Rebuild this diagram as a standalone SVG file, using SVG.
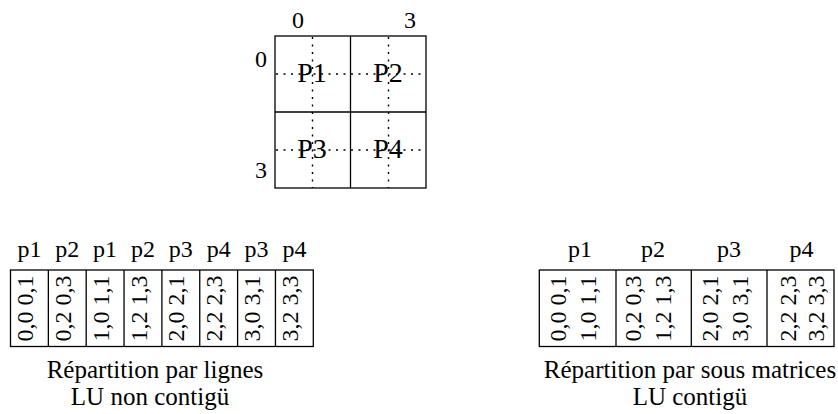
<svg xmlns="http://www.w3.org/2000/svg" width="838" height="414" viewBox="0 0 838 414">
<style>
.t{font-family:'Liberation Serif','Times New Roman',serif;font-size:24px;fill:#000}
.m{text-anchor:middle}
.big{font-size:28px}
.cap{font-size:25px}
.box{fill:none;stroke:#000;stroke-width:1.3}
.dot{stroke:#000;stroke-width:1.4;stroke-dasharray:2 5.5;fill:none}
</style>
<rect width="838" height="414" fill="#fff"/>
<g id="matrix" class="t" font-family="Liberation Serif, Times New Roman, serif" font-size="24">
<rect class="box" x="275" y="36" width="151" height="152"/>
<line class="box" x1="350.5" y1="36" x2="350.5" y2="188"/>
<line class="box" x1="275" y1="112" x2="426" y2="112"/>
<line class="dot" x1="312.5" y1="37" x2="312.5" y2="188"/>
<line class="dot" x1="388.5" y1="37" x2="388.5" y2="188"/>
<line class="dot" x1="276" y1="74" x2="426" y2="74"/>
<line class="dot" x1="276" y1="150" x2="426" y2="150"/>
<text class="m" x="298" y="28">0</text>
<text class="m" x="410" y="28">3</text>
<text class="m" x="261" y="67">0</text>
<text class="m" x="261" y="178">3</text>
<text class="m big" font-size="28" x="312" y="82">P1</text>
<text class="m big" font-size="28" x="388" y="82">P2</text>
<text class="m big" font-size="28" x="312" y="158">P3</text>
<text class="m big" font-size="28" x="388" y="158">P4</text>
</g>
<g id="rows" class="t" font-family="Liberation Serif, Times New Roman, serif" font-size="24">
<rect class="box" x="10.5" y="270" width="302.8" height="76.5"/>
<line class="box" x1="48.35" y1="270" x2="48.35" y2="346.5"/>
<line class="box" x1="86.2" y1="270" x2="86.2" y2="346.5"/>
<line class="box" x1="124.05" y1="270" x2="124.05" y2="346.5"/>
<line class="box" x1="161.9" y1="270" x2="161.9" y2="346.5"/>
<line class="box" x1="199.75" y1="270" x2="199.75" y2="346.5"/>
<line class="box" x1="237.6" y1="270" x2="237.6" y2="346.5"/>
<line class="box" x1="275.45" y1="270" x2="275.45" y2="346.5"/>
<text class="m" x="29.4" y="257">p1</text>
<text class="m" x="67.3" y="257">p2</text>
<text class="m" x="105.1" y="257">p1</text>
<text class="m" x="143" y="257">p2</text>
<text class="m" x="180.8" y="257">p3</text>
<text class="m" x="218.7" y="257">p4</text>
<text class="m" x="256.5" y="257">p3</text>
<text class="m" x="294.4" y="257">p4</text>
<text class="m" transform="translate(33,308.5) rotate(-90)">0,0 0,1</text>
<text class="m" transform="translate(70.8,308.5) rotate(-90)">0,2 0,3</text>
<text class="m" transform="translate(108.6,308.5) rotate(-90)">1,0 1,1</text>
<text class="m" transform="translate(146.5,308.5) rotate(-90)">1,2 1,3</text>
<text class="m" transform="translate(184.3,308.5) rotate(-90)">2,0 2,1</text>
<text class="m" transform="translate(222.2,308.5) rotate(-90)">2,2 2,3</text>
<text class="m" transform="translate(260,308.5) rotate(-90)">3,0 3,1</text>
<text class="m" transform="translate(297.9,308.5) rotate(-90)">3,2 3,3</text>
<text class="m cap" font-size="25" x="155" y="378">Répartition par lignes</text>
<text class="m cap" font-size="25" x="150" y="405">LU non contigü</text>
</g>
<g id="blocks" class="t" font-family="Liberation Serif, Times New Roman, serif" font-size="24">
<rect class="box" x="539.3" y="270" width="294.7" height="76.5"/>
<line class="box" x1="616" y1="270" x2="616" y2="346.5"/>
<line class="box" x1="691.3" y1="270" x2="691.3" y2="346.5"/>
<line class="box" x1="767" y1="270" x2="767" y2="346.5"/>
<text class="m" x="580" y="257">p1</text>
<text class="m" x="653" y="257">p2</text>
<text class="m" x="729" y="257">p3</text>
<text class="m" x="801.5" y="257">p4</text>
<text class="m" transform="translate(566,308.5) rotate(-90)">0,0 0,1</text>
<text class="m" transform="translate(596,308.5) rotate(-90)">1,0 1,1</text>
<text class="m" transform="translate(641,308.5) rotate(-90)">0,2 0,3</text>
<text class="m" transform="translate(671,308.5) rotate(-90)">1,2 1,3</text>
<text class="m" transform="translate(718,308.5) rotate(-90)">2,0 2,1</text>
<text class="m" transform="translate(748,308.5) rotate(-90)">3,0 3,1</text>
<text class="m" transform="translate(796,308.5) rotate(-90)">2,2 2,3</text>
<text class="m" transform="translate(824,308.5) rotate(-90)">3,2 3,3</text>
<text class="m cap" font-size="25" x="690" y="378">Répartition par sous matrices</text>
<text class="m cap" font-size="25" x="690" y="405">LU contigü</text>
</g>
</svg>
